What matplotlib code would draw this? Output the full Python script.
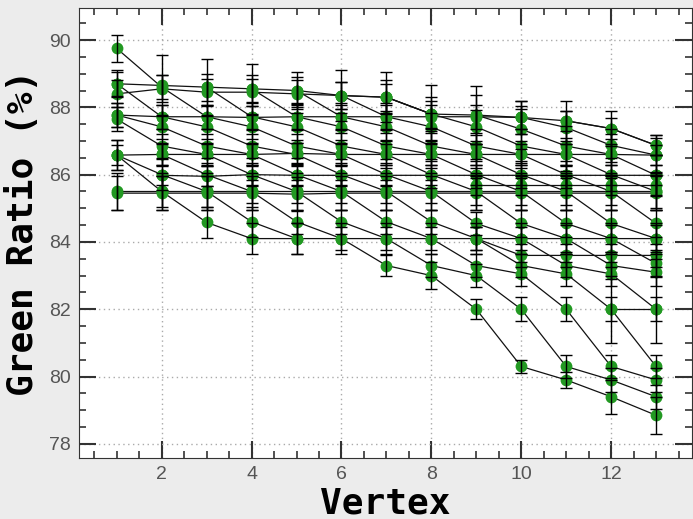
import numpy as np
import matplotlib.pyplot as plt
from matplotlib.ticker import MultipleLocator

N = np.nan
vertex = np.arange(1, 14)

# slowly falling top curve and the near-flat bands
ceiling = [88.70, 88.65, 88.60, 88.55, 88.50, 88.35, 88.30, 87.80, 87.77, 87.70, 87.60, 87.37, 86.87]
band_884 = [88.40, 88.55, 88.45, 88.45, 88.40, 88.35, 88.30, 87.80, N, N, N, N, N]
band_877 = [87.77, 87.72, 87.72, 87.70, 87.72, 87.72, 87.72, 87.72, 87.72, 87.70, N, N, N]
band_866 = [86.58, 86.60, 86.60, 86.60, 86.63, 86.60, 86.60, 86.60, 86.60, 86.60, 86.60, 86.60, 86.58]
band_860 = [N, 85.98, 85.95, 86.00, 85.98, 85.98, 85.98, 85.98, 85.98, 85.98, 85.98, 85.98, 85.98]
band_857 = [N, N, N, N, N, N, N, N, 85.70, 85.70, 85.70, 85.70, 85.70]
band_855 = [85.50, 85.50, 85.50, 85.50, 85.50, 85.50, 85.50, 85.50, 85.50, 85.50, 85.50, 85.50, 85.50]
band_8545 = [85.45, 85.45, 85.45, 85.45, 85.42, 85.45, 85.45, 85.45, 85.45, 85.45, 85.45, 85.45, 85.45]
floor = [86.58, 85.50, 84.58, 84.10, 84.10, 84.10, 84.10, 84.10, 84.10, 84.10, 84.10, 84.10, 84.10]
band_836 = [N, N, N, N, N, N, N, N, 84.10, 83.60, 83.60, 83.60, 83.60]
band_82 = [N, N, N, N, N, N, N, N, N, N, N, 82.00, 82.00]

# falling diagonals
diag_m9 = [N, N, N, N, N, N, N, N, N, N, 87.60, 87.37, 86.87]
diag_m8 = [N, N, N, N, N, N, N, N, N, 87.70, 87.40, 86.87, 86.58]
diag_m7 = [N, N, N, N, N, N, N, N, 87.77, 87.35, 86.85, 86.60, 85.98]
diag_m6 = [N, N, N, N, N, N, 88.30, 87.80, 87.42, 86.85, 86.60, 86.00, 85.50]
diag_m5 = [N, N, N, N, N, 88.35, 87.72, 87.42, 86.85, 86.60, 86.00, 85.50, 84.55]
diag_m4 = [N, N, N, N, 88.50, 87.72, 87.42, 86.85, 86.60, 86.00, 85.50, 84.55, 84.10]
diag_m3 = [N, N, N, 88.55, 87.72, 87.42, 86.85, 86.60, 86.00, 85.50, 84.55, 84.10, 83.36]
diag_m2 = [N, N, 88.60, 87.72, 87.42, 86.85, 86.60, 86.00, 85.50, 84.55, 84.10, 83.30, 83.10]
diag_m1 = [89.75, 88.60, 87.72, 87.42, 86.85, 86.60, 86.00, 85.50, 84.55, 84.10, 83.30, 83.05, 82.00]
diag_0 = [88.70, 87.72, 87.42, 86.85, 86.60, 86.00, 85.50, 84.60, 84.10, 83.30, 83.05, 82.00, 80.30]
diag_1 = [87.77, 87.42, 86.85, 86.60, 86.00, 85.50, 84.60, 84.10, 83.30, 83.05, 82.00, 80.30, 79.90]
diag_2 = [87.65, 86.85, 86.60, 86.00, 85.50, 84.60, 84.10, 83.30, 83.00, 82.00, 80.30, 79.90, 79.40]
diag_3 = [N, 86.60, 86.00, 85.50, 84.60, 84.10, 83.30, 83.00, 82.00, 80.30, 79.90, 79.40, 78.85]
diag_4 = [86.58, 86.00, 85.50, 84.60, 84.10, N, N, N, N, N, N, N, N]

ceiling_err = [0.40, 0.90, 0.85, 0.75, 0.55, 0.75, 0.75, 0.85, 0.87, 0.50, 0.60, 0.53, 0.30]
diag_m1_err = [0.40, 0.35, 0.35, 0.35, 0.35, 0.35, 0.35, 0.35, 0.35, 0.35, 0.35, 0.35, 0.35]
diag_3_err = [0.35, 0.35, 0.35, 0.35, 0.35, 0.35, 0.30, 0.40, 0.30, 0.20, 0.25, 0.50, 0.55]

series = [ceiling, band_884, band_877, band_866, band_860, band_857, band_855, band_8545,
          floor, band_836, band_82, diag_m9, diag_m8, diag_m7, diag_m6, diag_m5, diag_m4,
          diag_m3, diag_m2, diag_m1, diag_0, diag_1, diag_2, diag_3, diag_4]
errors = [ceiling_err, 0.4, 0.35, 0.3, 0.3, 0.3, 0.55, 0.5,
          0.45, 0.35, 1.0, 0.3, 0.5, 0.6, 0.5, 0.4, 0.4,
          0.4, 0.4, diag_m1_err, 0.35, 0.35, 0.35, diag_3_err, 0.45]

fig = plt.figure(figsize=(6.93, 5.19), dpi=100, facecolor='#ececec')
ax = fig.add_axes([0.114, 0.1175, 0.8846, 0.867])

for vals, err in zip(series, errors):
    y = np.array(vals, dtype=float)
    e = np.broadcast_to(np.array(err, dtype=float), y.shape)
    ok = np.isfinite(y)
    ax.plot(vertex, y, color='#111111', lw=0.9, zorder=2)
    ax.plot(vertex[ok], y[ok], 'o', color='#229922', ms=8.5, mec='none', zorder=3)
    ax.errorbar(vertex[ok], y[ok], yerr=e[ok], fmt='none', ecolor='black',
                elinewidth=1.0, capsize=4, capthick=1.0, zorder=4)

ax.set_xlim(0.16, 13.8)
ax.set_ylim(77.58, 90.95)
ax.xaxis.set_major_locator(MultipleLocator(2))
ax.xaxis.set_minor_locator(MultipleLocator(0.5))
ax.yaxis.set_major_locator(MultipleLocator(2))
ax.yaxis.set_minor_locator(MultipleLocator(0.5))
ax.tick_params(which='both', direction='in', top=True, right=True, colors='#333333',
               labelcolor='#555555', labelsize=14)
ax.tick_params(which='major', length=12, width=1.5, pad=6)
ax.tick_params(which='minor', length=5, width=1.2)
for lab in ax.get_xticklabels() + ax.get_yticklabels():
    lab.set_fontfamily('Liberation Sans')
ax.grid(True, which='major', linestyle=(0, (1, 2.5)), color='#aaaaaa', lw=1)
for sp in ax.spines.values():
    sp.set_color('#333333')

ax.set_xlabel('Vertex', fontfamily='DejaVu Sans Mono', fontweight='bold', fontsize=26, labelpad=2)
ax.set_ylabel('Green Ratio (%)', fontfamily='DejaVu Sans Mono', fontweight='bold', fontsize=26, labelpad=6)

fig.savefig('out.png', dpi=100, facecolor=fig.get_facecolor())
